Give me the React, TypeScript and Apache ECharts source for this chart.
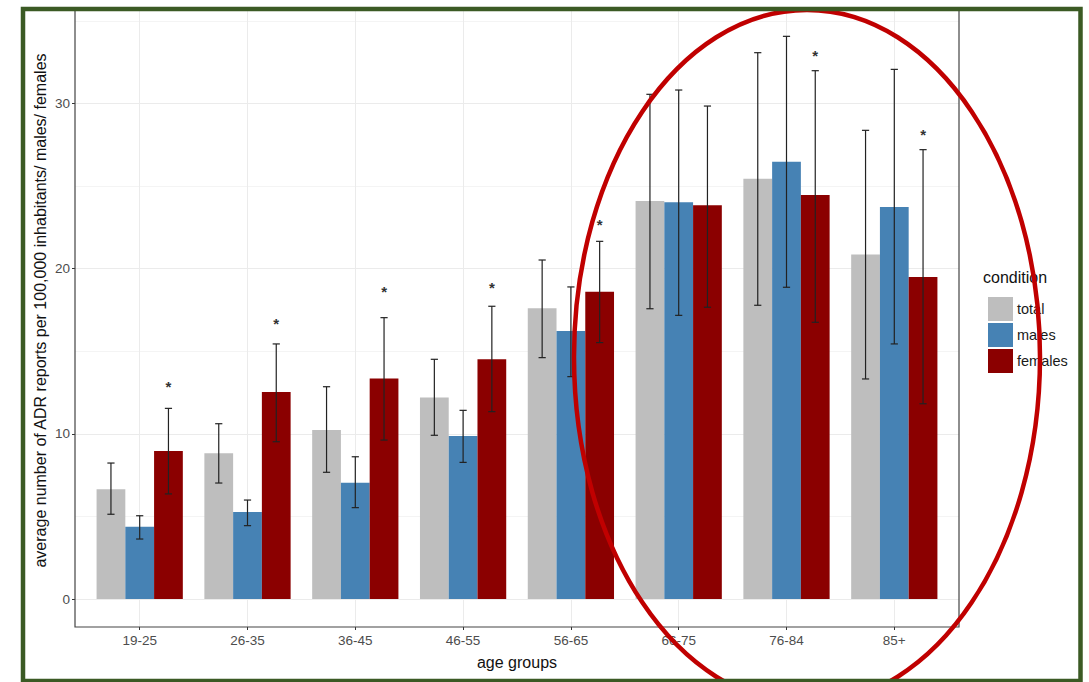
import React, { useEffect, useRef } from "react";
import * as echarts from "echarts";

// ---- data ----
const ageGroups = ["19-25", "26-35", "36-45", "46-55", "56-65", "66-75", "76-84", "85+"];
const conditions = ["total", "males", "females"];

const totalMean = [6.64, 8.82, 10.23, 12.19, 17.6, 24.09, 25.44, 20.86];
const totalLow = [5.13, 7.02, 7.67, 9.91, 14.61, 17.57, 17.78, 13.32];
const totalHigh = [8.23, 10.61, 12.85, 14.51, 20.52, 30.55, 33.07, 28.37];

const malesMean = [4.38, 5.27, 7.04, 9.87, 16.22, 24.01, 26.47, 23.73];
const malesLow = [3.63, 4.44, 5.53, 8.27, 13.46, 17.17, 18.87, 15.44];
const malesHigh = [5.04, 5.99, 8.61, 11.42, 18.89, 30.81, 34.06, 32.06];

const femalesMean = [8.96, 12.53, 13.34, 14.51, 18.6, 23.83, 24.46, 19.49];
const femalesLow = [6.36, 9.52, 9.62, 11.34, 15.52, 17.66, 16.75, 11.82];
const femalesHigh = [11.54, 15.44, 17.03, 17.72, 21.65, 29.84, 31.98, 27.2];

// significance markers (placed above the females bar), null = none
const starY = [13.1, 16.9, 18.8, 19.07, 22.88, null, 33.13, 28.35];

const yTickMax = 30;
const yTickStep = 10;
const yGridMax = 35;
const yGridStep = 5;

// ---- styles / layout ----
const COLORS = ["#bebebe", "#4682b4", "#8b0000"];
const FONT = "'Liberation Sans', Arial, sans-serif";
const BAR_W = 28.75;
const PANEL = { left: 75, right: 959, top: 10, bottom: 627 };
const Y0 = 599; // pixel of value 0
const PX_PER_UNIT = 16.52;
const CAT_LEFT = 139.7;
const CAT_RIGHT = 894.3;
const gridTop35 = Y0 - yGridMax * PX_PER_UNIT;
const gridTop30 = Y0 - yTickMax * PX_PER_UNIT;

export default function App() {
  const ref = useRef<HTMLDivElement>(null);

  useEffect(() => {
    if (!ref.current) return;
    const chart = echarts.init(ref.current, null, { renderer: "svg" });

    const means = [totalMean, malesMean, femalesMean];
    const lows = [totalLow, malesLow, femalesLow];
    const highs = [totalHigh, malesHigh, femalesHigh];

    const barSeries = conditions.map((name, k) => ({
      name,
      type: "bar",
      xAxisIndex: 2,
      yAxisIndex: 2,
      data: means[k],
      barWidth: BAR_W,
      barGap: "0%",
      itemStyle: { color: COLORS[k] },
      z: 3,
    }));

    const errSeries = conditions.map((name, k) => ({
      name: name + "-err",
      type: "custom",
      xAxisIndex: 2,
      yAxisIndex: 2,
      z: 5,
      data: ageGroups.map((_, i) => [i, lows[k][i], highs[k][i]]),
      encode: { x: 0, y: [1, 2] },
      renderItem: (params: any, api: any) => {
        const i = api.value(0);
        const lo = api.coord([i, api.value(1)]);
        const hi = api.coord([i, api.value(2)]);
        const x = lo[0] + (k - 1) * BAR_W;
        const cap = 3.6;
        const style = { stroke: "#222", lineWidth: 1.2 };
        return {
          type: "group",
          children: [
            { type: "line", shape: { x1: x, y1: lo[1], x2: x, y2: hi[1] }, style },
            { type: "line", shape: { x1: x - cap, y1: lo[1], x2: x + cap, y2: lo[1] }, style },
            { type: "line", shape: { x1: x - cap, y1: hi[1], x2: x + cap, y2: hi[1] }, style },
          ],
        };
      },
    }));

    const starSeries = {
      name: "stars",
      type: "custom",
      xAxisIndex: 2,
      yAxisIndex: 2,
      z: 6,
      data: ageGroups
        .map((_, i) => (starY[i] == null ? null : [i, starY[i]]))
        .filter((d) => d !== null),
      encode: { x: 0, y: 1 },
      renderItem: (params: any, api: any) => {
        const p = api.coord([api.value(0), api.value(1)]);
        return {
          type: "text",
          x: p[0] + BAR_W,
          y: p[1] + 3.5,
          style: {
            text: "*",
            fill: "#333",
            font: `bold 15px ${FONT}`,
            textAlign: "center",
            textVerticalAlign: "middle",
          },
        };
      },
    };

    const option: any = {
      animation: false,
      backgroundColor: "#ffffff",
      grid: [
        // horizontal grid lines, full panel width
        { left: PANEL.left, width: PANEL.right - PANEL.left, top: gridTop35, height: Y0 - gridTop35 },
        // category ticks/labels and vertical grid lines, full panel height
        { left: CAT_LEFT, width: CAT_RIGHT - CAT_LEFT, top: PANEL.top, height: PANEL.bottom - PANEL.top },
        // bars
        { left: CAT_LEFT, width: CAT_RIGHT - CAT_LEFT, top: gridTop35, height: Y0 - gridTop35 },
        // y tick labels 0..30
        { left: PANEL.left, width: PANEL.right - PANEL.left, top: gridTop30, height: Y0 - gridTop30 },
      ],
      xAxis: [
        { type: "value", gridIndex: 0, show: false, min: 0, max: 1 },
        {
          type: "category",
          gridIndex: 1,
          data: ageGroups,
          boundaryGap: false,
          axisLine: { show: false },
          axisTick: { show: true, length: 3, lineStyle: { color: "#333" } },
          axisLabel: { color: "#4d4d4d", fontSize: 13.5, fontFamily: FONT, margin: 6 },
          splitLine: { show: true, lineStyle: { color: "#ebebeb", width: 1 } },
          name: "age groups",
          nameLocation: "middle",
          nameGap: 27,
          nameTextStyle: { color: "#111", fontSize: 16, fontFamily: FONT },
        },
        { type: "category", gridIndex: 2, data: ageGroups, boundaryGap: false, show: false },
        { type: "value", gridIndex: 3, show: false, min: 0, max: 1 },
      ],
      yAxis: [
        {
          type: "value",
          gridIndex: 0,
          min: 0,
          max: yGridMax,
          interval: yGridStep,
          axisLine: { show: false },
          axisTick: { show: false },
          axisLabel: { show: false },
          splitLine: { show: true, lineStyle: { color: ["#ebebeb", "#f4f4f4"], width: 1 } },
        },
        { type: "value", gridIndex: 1, show: false, min: 0, max: 1 },
        { type: "value", gridIndex: 2, show: false, min: 0, max: yGridMax },
        {
          type: "value",
          gridIndex: 3,
          min: 0,
          max: yTickMax,
          interval: yTickStep,
          axisLine: { show: false },
          axisTick: { show: true, length: 3, lineStyle: { color: "#333" } },
          axisLabel: { color: "#4d4d4d", fontSize: 13.5, fontFamily: FONT, margin: 5 },
          splitLine: { show: false },
        },
      ],
      legend: {
        data: conditions,
        orient: "vertical",
        left: 983,
        top: 292,
        icon: "rect",
        itemWidth: 25,
        itemHeight: 24,
        itemGap: 2,
        textStyle: { color: "#1a1a1a", fontSize: 14.5, fontFamily: FONT, padding: [0, 0, 0, -1] },
      },
      graphic: [
        {
          type: "rect",
          shape: {
            x: PANEL.left,
            y: PANEL.top,
            width: PANEL.right - PANEL.left,
            height: PANEL.bottom - PANEL.top,
          },
          style: { fill: "transparent", stroke: "#444", lineWidth: 1.2 },
          silent: true,
          z: 10,
        },
        {
          type: "text",
          x: 40,
          y: (PANEL.top + PANEL.bottom) / 2 - 8,
          rotation: Math.PI / 2,
          style: {
            text: "average number of ADR reports per 100,000 inhabitants/ males/ females",
            font: `16px ${FONT}`,
            fill: "#111",
            textAlign: "center",
            textVerticalAlign: "middle",
          },
          z: 10,
        },
        {
          type: "text",
          x: 983,
          y: 277,
          style: {
            text: "condition",
            font: `16px ${FONT}`,
            fill: "#111",
            textAlign: "left",
            textVerticalAlign: "middle",
          },
          z: 10,
        },
        {
          type: "ellipse",
          shape: { cx: 807, cy: 357, rx: 233, ry: 347 },
          style: { fill: "transparent", stroke: "#c00000", lineWidth: 4.5 },
          silent: true,
          z: 100,
        },
        {
          type: "rect",
          shape: { x: 23, y: 9, width: 1057.5, height: 672 },
          style: { fill: "transparent", stroke: "#3b5a24", lineWidth: 4.5 },
          silent: true,
          z: 101,
        },
      ],
      series: [...barSeries, ...errSeries, starSeries],
    };

    chart.setOption(option);
    return () => chart.dispose();
  }, []);

  return (
    <div
      ref={ref}
      style={{ position: "fixed", left: 0, top: 0, width: 1089, height: 682, background: "#fff" }}
    />
  );
}
